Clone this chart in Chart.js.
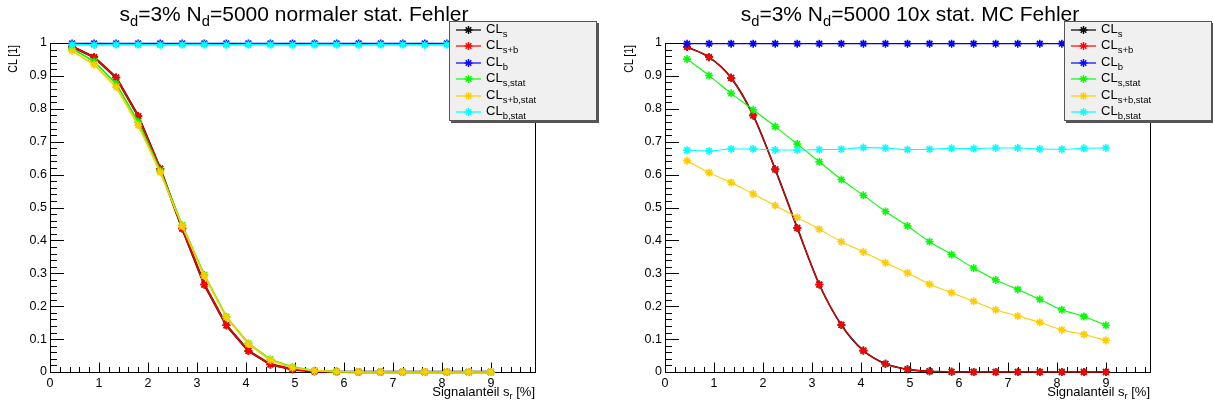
<!DOCTYPE html>
<html><head><meta charset="utf-8">
<script src="https://cdn.jsdelivr.net/npm/chart.js@4.4.1/dist/chart.umd.min.js"></script>
<style>
html,body{margin:0;padding:0;background:#fff;}
body{width:1213px;height:405px;position:relative;overflow:hidden;font-family:"Liberation Sans",Arial,sans-serif;color:#000;}
canvas{position:absolute;top:0;}
.title{position:absolute;top:4px;font-size:21px;line-height:20px;text-align:center;white-space:nowrap;}
.sub{font-size:0.7em;position:relative;top:0.35em;}
.xt{position:absolute;top:385px;left:0;font-size:13px;line-height:14px;text-align:right;white-space:nowrap;}
.yt{position:absolute;top:38px;width:100px;height:14px;font-size:13.5px;line-height:14px;text-align:right;transform-origin:right center;transform:rotate(-90deg) scaleX(0.78);white-space:nowrap;}
.leg{position:absolute;top:21px;width:146px;height:98px;background:#f0f0f0;border:1px solid #555;box-shadow:2px 2px 0 #555;}
.lt{position:absolute;left:36px;font-size:13px;line-height:16px;white-space:nowrap;}
.lt .ls{font-size:9.5px;position:relative;top:4px;}
.lsvg{position:absolute;left:5px;width:28px;height:12px;}
</style>
</head><body>
<canvas id="cL" width="606" height="405" style="left:0;width:606px;height:405px"></canvas>
<canvas id="cR" width="607" height="405" style="left:606px;width:607px;height:405px"></canvas>

<div class="title" style="left:0;width:588px">s<span class="sub">d</span>=3% N<span class="sub">d</span>=5000 normaler stat. Fehler</div>
<div class="title" style="left:606px;width:608px">s<span class="sub">d</span>=3% N<span class="sub">d</span>=5000 10x stat. MC Fehler</div>
<div class="yt" style="left:-87px">CL [1]</div>
<div class="yt" style="left:529px">CL [1]</div>
<div class="xt" style="width:535px">Signalanteil s<span class="sub">r</span> [%]</div>
<div class="xt" style="left:606px;width:544px">Signalanteil s<span class="sub">r</span> [%]</div>
<div class="leg" id="legL" style="left:449px"></div>
<div class="leg" id="legR" style="left:1064px"></div>

<script>
// ---- data ----
const signalFraction = [0.45,0.9,1.35,1.8,2.25,2.7,3.15,3.6,4.05,4.5,4.95,5.4,5.85,6.3,6.75,7.2,7.65,8.1,8.55,9.0];
const xTickLabels = ['0','1','2','3','4','5','6','7','8','9'];
const yTickLabels = ['0','0.1','0.2','0.3','0.4','0.5','0.6','0.7','0.8','0.9','1'];
const legendSubs = ['s','s+b','b','s,stat','s+b,stat','b,stat'];

// left panel: normaler stat. Fehler
const leftCLs      = [0.989,0.957,0.895,0.778,0.618,0.436,0.266,0.142,0.064,0.023,0.008,0.002,0.0005,0,0,0,0,0,0,0];
const leftCLsb     = [0.989,0.957,0.895,0.778,0.618,0.436,0.266,0.142,0.064,0.023,0.008,0.002,0.0005,0,0,0,0,0,0,0];
const leftCLb      = [0.9985,0.9985,0.9985,0.9985,0.9985,0.9985,0.9985,0.9985,0.9985,0.9985,0.9985,0.9985,0.9985,0.9985,0.9985,0.9985,0.9985,0.9985,0.9985,0.9985];
const leftCLsStat  = [0.983,0.944,0.876,0.760,0.612,0.446,0.295,0.168,0.087,0.038,0.015,0.004,0.001,0,0,0,0,0,0,0];
const leftCLsbStat = [0.976,0.934,0.866,0.750,0.607,0.443,0.292,0.166,0.085,0.036,0.013,0.004,0.001,0,0,0,0,0,0,0];
const leftCLbStat  = [0.995,0.994,0.995,0.995,0.994,0.995,0.995,0.994,0.995,0.995,0.994,0.995,0.995,0.994,0.995,0.995,0.994,0.995,0.995,0.994];

// right panel: 10x stat. MC Fehler
const rightCLs      = [0.988,0.957,0.894,0.780,0.616,0.438,0.266,0.143,0.065,0.025,0.008,0.002,0.0005,0,0,0,0,0,0,0];
const rightCLsb     = [0.988,0.957,0.894,0.780,0.616,0.438,0.266,0.143,0.065,0.025,0.008,0.002,0.0005,0,0,0,0,0,0,0];
const rightCLb      = [0.998,0.998,0.998,0.998,0.998,0.998,0.998,0.998,0.998,0.998,0.998,0.998,0.998,0.998,0.998,0.998,0.998,0.998,0.998,0.998];
const rightCLsStat  = [0.951,0.901,0.847,0.797,0.746,0.693,0.639,0.585,0.537,0.488,0.444,0.396,0.357,0.316,0.280,0.251,0.221,0.189,0.169,0.142];
const rightCLsbStat = [0.642,0.606,0.576,0.541,0.506,0.470,0.434,0.396,0.365,0.332,0.301,0.267,0.241,0.215,0.189,0.170,0.151,0.128,0.114,0.096];
const rightCLbStat  = [0.674,0.672,0.678,0.678,0.675,0.675,0.676,0.677,0.682,0.681,0.676,0.677,0.680,0.679,0.681,0.681,0.678,0.677,0.680,0.681];

const seriesColors = ['#000000','#ff0000','#0000ff','#00ff00','#ffcc00','#00ffff'];

// ---- ROOT-style frame with inside ticks ----
const rootFrame = {
  id:'rootFrame',
  beforeDatasetsDraw(chart){
    const {ctx, chartArea:a, scales:{x,y}} = chart;
    ctx.save();
    ctx.strokeStyle='#000'; ctx.lineWidth=1;
    ctx.beginPath();
    for(let k=0;k<=50;k++){
      const py=Math.round(y.getPixelForValue(k/50))+0.5;
      const len=(k%5===0)?14:7;
      ctx.moveTo(a.left,py); ctx.lineTo(a.left+len,py);
    }
    for(let k=0;k*0.2<=x.max+1e-9;k++){
      const px=Math.round(x.getPixelForValue(k*0.2))+0.5;
      const len=(k%5===0)?9.5:5;
      ctx.moveTo(px,a.bottom); ctx.lineTo(px,a.bottom-len);
    }
    ctx.stroke();
    ctx.strokeRect(Math.round(a.left)+0.5,Math.round(a.top)+0.5,Math.round(a.right-a.left),Math.round(a.bottom-a.top));
    ctx.restore();
  }
};

function makeChart(id, yWidth, padRight, series, smooth){
  const lw = smooth ? 1.1 : 1.7;
  const datasets = series.map((vals,i)=>({
    data: signalFraction.map((sx,j)=>({x:sx,y:vals[j]})),
    borderColor: seriesColors[i],
    backgroundColor: seriesColors[i],
    borderWidth: (i===0 ? lw+0.6 : lw),
    pointStyle:'star',
    pointRadius:4,
    pointBorderWidth:1.6,
    pointBorderColor: seriesColors[i],
    showLine:true,
    fill:false,
    clip:false,
    order: 5-i,
    tension: smooth?0.4:0,
    cubicInterpolationMode: smooth?'monotone':'default'
  }));
  const font = {family:'"Liberation Sans", Arial, sans-serif',size:12.5};
  new Chart(document.getElementById(id),{
    type:'scatter',
    data:{datasets},
    options:{
      responsive:false, animation:false, devicePixelRatio:1, events:[],
      layout:{padding:{left:0,top:43,right:padRight,bottom:0}},
      plugins:{legend:{display:false},tooltip:{enabled:false}},
      scales:{
        x:{type:'linear',min:0,max:9.9,
           grid:{display:false,drawTicks:false},border:{display:false},
           ticks:{stepSize:1,includeBounds:false,padding:4,color:'#000',font,
                  maxRotation:0,autoSkip:false,
                  callback:(v,idx)=>xTickLabels[idx]},
           afterFit(s){s.height=33;}},
        y:{type:'linear',min:0,max:1,
           grid:{display:false,drawTicks:false},border:{display:false},
           ticks:{stepSize:0.1,padding:3,color:'#000',font,
                  autoSkip:false,
                  callback:(v,idx)=>yTickLabels[idx]},
           afterFit(s){s.width=yWidth;}}
      }
    },
    plugins:[rootFrame]
  });
}

makeChart('cL',50,71,[leftCLs,leftCLsb,leftCLb,leftCLsStat,leftCLsbStat,leftCLbStat],false);
makeChart('cR',59,63,[rightCLs,rightCLsb,rightCLb,rightCLsStat,rightCLsbStat,rightCLbStat],true);

// ---- legends ----
function buildLegend(id){
  const box=document.getElementById(id);
  legendSubs.forEach((sub,i)=>{
    const yc=8+i*16.4;
    const c=seriesColors[i];
    const svg=document.createElementNS('http://www.w3.org/2000/svg','svg');
    svg.setAttribute('class','lsvg');
    svg.style.top=(yc-6)+'px';
    svg.setAttribute('viewBox','0 0 28 12');
    const r=4, cx=13.5, cy=6, d=r*0.7071;
    svg.innerHTML='<line x1="1" y1="6" x2="26" y2="6" stroke="'+c+'" stroke-width="1.2"/>'+
      '<g stroke="'+c+'" stroke-width="1.4">'+
      '<line x1="'+(cx-r)+'" y1="'+cy+'" x2="'+(cx+r)+'" y2="'+cy+'"/>'+
      '<line x1="'+cx+'" y1="'+(cy-r)+'" x2="'+cx+'" y2="'+(cy+r)+'"/>'+
      '<line x1="'+(cx-d)+'" y1="'+(cy-d)+'" x2="'+(cx+d)+'" y2="'+(cy+d)+'"/>'+
      '<line x1="'+(cx-d)+'" y1="'+(cy+d)+'" x2="'+(cx+d)+'" y2="'+(cy-d)+'"/></g>';
    box.appendChild(svg);
    const t=document.createElement('div');
    t.className='lt';
    t.style.top=(yc-9)+'px';
    t.innerHTML='CL<span class="ls">'+sub+'</span>';
    box.appendChild(t);
  });
}
buildLegend('legL');
buildLegend('legR');
</script>
</body></html>
